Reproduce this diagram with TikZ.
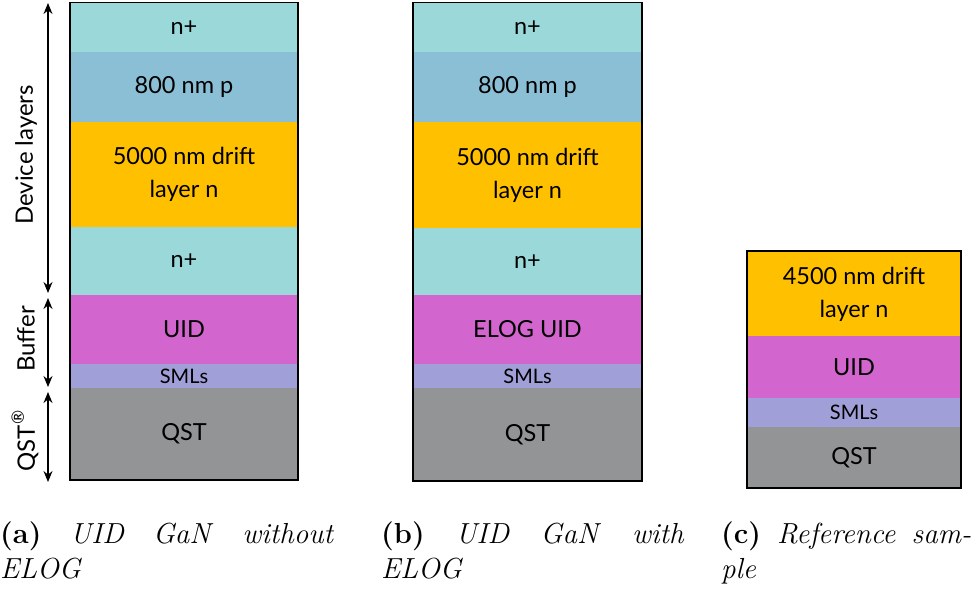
\documentclass[tikz,border=0pt]{standalone}
\usepackage{fontspec}
\newfontfamily\boxfont{Lato}
\usetikzlibrary{arrows.meta}
\definecolor{nplus}{HTML}{9AD8D9}
\definecolor{pcol}{HTML}{8BBFD5}
\definecolor{drift}{HTML}{FFC000}
\definecolor{uid}{HTML}{D366CE}
\definecolor{sml}{HTML}{A09FD8}
\definecolor{qst}{HTML}{939496}
\tikzset{
  layer/.style={draw=none, inner sep=0pt, align=center,
    font=\boxfont\fontsize{23.5}{33}\selectfont},
  smltext/.style={font=\boxfont\fontsize{20}{22}\selectfont},
  outline/.style={draw=black, line width=1.5pt},
  dimarrow/.style={line width=1.3pt, {Stealth[length=11pt,width=9pt]}-{Stealth[length=11pt,width=9pt]}},
  sidelabel/.style={inner sep=0pt, rotate=90, font=\boxfont\fontsize{24}{28}\selectfont},
  captionnode/.style={anchor=base west, inner sep=0pt, align=justify,
    font=\fontsize{29}{35}\selectfont}
}
\begin{document}
\begin{tikzpicture}[x=1pt,y=-1pt]
\useasboundingbox (0,0) rectangle (979,590);
% ---------- column a ----------
\node[layer, fill=nplus, minimum width=228, minimum height=50] (a1) at (184,27.5) {n+};
\node[layer, fill=pcol,  minimum width=228, minimum height=71] (a2) at (184,87) {800 nm p};
\node[layer, fill=drift, minimum width=228, minimum height=106] (a3) at (184,174.5) {5000 nm drift\\layer n};
\node[layer, fill=nplus, minimum width=228, minimum height=69] (a4) at (184,261) {n+};
\node[layer, fill=uid,   minimum width=228, minimum height=70] (a5) at (184,329.5) {UID};
\node[layer, smltext, fill=sml, minimum width=228, minimum height=25] (a6) at (184,376) {SMLs};
\node[layer, fill=qst,   minimum width=228, minimum height=92] (a7) at (184,434) {QST};
\draw[outline] (a1.north west) rectangle (a7.south east);
% ---------- column b ----------
\node[layer, fill=nplus, minimum width=229, minimum height=50] (b1) at (527.5,27.5) {n+};
\node[layer, fill=pcol,  minimum width=229, minimum height=71] (b2) at (527.5,87) {800 nm p};
\node[layer, fill=drift, minimum width=229, minimum height=107] (b3) at (527.5,175) {5000 nm drift\\layer n};
\node[layer, fill=nplus, minimum width=229, minimum height=68] (b4) at (527.5,261.5) {n+};
\node[layer, fill=uid,   minimum width=229, minimum height=70] (b5) at (527.5,329.5) {ELOG UID};
\node[layer, smltext, fill=sml, minimum width=229, minimum height=25] (b6) at (527.5,376) {SMLs};
\node[layer, fill=qst,   minimum width=229, minimum height=93] (b7) at (527.5,434.5) {QST};
\draw[outline] (b1.north west) rectangle (b7.south east);
% ---------- column c ----------
\node[layer, fill=drift, minimum width=214, minimum height=86] (c1) at (854,294) {4500 nm drift\\layer n};
\node[layer, fill=uid,   minimum width=214, minimum height=63] (c2) at (854,367) {UID};
\node[layer, smltext, fill=sml, minimum width=214, minimum height=30] (c3) at (854,412.5) {SMLs};
\node[layer, fill=qst,   minimum width=214, minimum height=61] (c4) at (854,457.5) {QST};
\draw[outline] (c1.north west) rectangle (c4.south east);
% ---------- side dimension arrows ----------
\coordinate (d1) at (48,3);   \coordinate (d2) at (48,293);
\coordinate (f1) at (48,298); \coordinate (f2) at (48,387);
\coordinate (q1) at (48,392); \coordinate (q2) at (48,482);
\draw[dimarrow] (d1) -- (d2);
\draw[dimarrow] (f1) -- (f2);
\draw[dimarrow] (q1) -- (q2);
\node[sidelabel] (ldev) at (26,155) {Device layers};
\node[sidelabel] (lbuf) at (26,339) {Buffer};
\node[sidelabel] (lqst) at (25,441) {QST\raisebox{0.45em}{\fontsize{17}{17}\selectfont ®}};
% ---------- captions ----------
\node[captionnode, text width=334] (capa) at (0,543)
  {\textbf{(a)}\hfill\textit{UID}\hfill\textit{GaN}\hfill\textit{without}\\\textit{ELOG}};
\node[captionnode, text width=303] (capb) at (381,543)
  {\textbf{(b)}\hfill\textit{UID}\hfill\textit{GaN}\hfill\textit{with}\\\textit{ELOG}};
\node[captionnode, text width=250] (capc) at (721,543)
  {\textbf{(c)}\hfill\textit{Reference}\hfill\textit{sam-}\\\textit{ple}};
\end{tikzpicture}
\end{document}
